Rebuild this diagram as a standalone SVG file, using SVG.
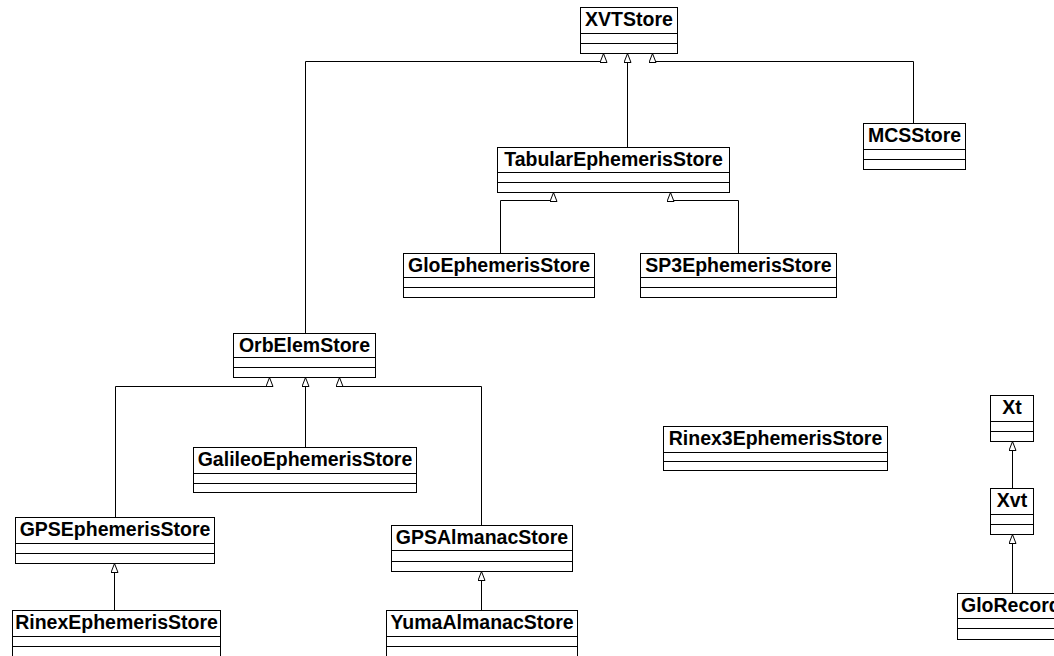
<svg xmlns="http://www.w3.org/2000/svg" width="1054" height="656" viewBox="0 0 1054 656">
<style>
.box rect{fill:#fff;stroke:#000;stroke-width:1}
.box line{stroke:#000;stroke-width:1}
.box text{font-family:"Liberation Sans",Arial,sans-serif;font-weight:bold;font-size:19.5px;fill:#000;text-anchor:middle}
.conn path{fill:none;stroke:#000;stroke-width:1;marker-end:url(#gen)}
</style>
<defs>
<marker id="gen" viewBox="0 0 10 8" refX="10" refY="4" markerWidth="10" markerHeight="8" markerUnits="userSpaceOnUse" orient="auto">
<path d="M0.5,0.5 L9.5,4 L0.5,7.5 Z" fill="#fff" stroke="#000" stroke-width="1"/>
</marker>
</defs>
<rect width="1054" height="656" fill="#fff"/>
<g class="conn">
<path d="M305.5,333 V61.5 H603.5 V53"/>
<path d="M627.5,148 V53"/>
<path d="M913.5,123 V61.5 H652.5 V53"/>
<path d="M500.5,253 V200.5 H553.5 V192"/>
<path d="M738.5,253 V200.5 H670.5 V192"/>
<path d="M115.5,517 V386.5 H269.5 V377"/>
<path d="M305.5,448 V377"/>
<path d="M481.5,525 V386.5 H339.5 V377"/>
<path d="M114.5,610 V563"/>
<path d="M481.5,610 V571"/>
<path d="M1012.5,488 V441"/>
<path d="M1012.5,593 V534"/>
</g>
<g id="XVTStore" class="box"><rect x="580.5" y="7.5" width="97" height="46"/><line x1="580.5" y1="33.5" x2="677.5" y2="33.5"/><line x1="580.5" y1="43.5" x2="677.5" y2="43.5"/><text x="629" y="26">XVTStore</text></g>
<g id="TabularEphemerisStore" class="box"><rect x="497.5" y="147.5" width="232" height="45"/><line x1="497.5" y1="172.5" x2="729.5" y2="172.5"/><line x1="497.5" y1="182.5" x2="729.5" y2="182.5"/><text x="613.5" y="166">TabularEphemerisStore</text></g>
<g id="MCSStore" class="box"><rect x="863.5" y="123.5" width="102" height="46"/><line x1="863.5" y1="149.5" x2="965.5" y2="149.5"/><line x1="863.5" y1="159.5" x2="965.5" y2="159.5"/><text x="914.5" y="142">MCSStore</text></g>
<g id="GloEphemerisStore" class="box"><rect x="403.5" y="253.5" width="191" height="44"/><line x1="403.5" y1="277.5" x2="594.5" y2="277.5"/><line x1="403.5" y1="287.5" x2="594.5" y2="287.5"/><text x="499" y="272">GloEphemerisStore</text></g>
<g id="SP3EphemerisStore" class="box"><rect x="640.5" y="253.5" width="196" height="44"/><line x1="640.5" y1="277.5" x2="836.5" y2="277.5"/><line x1="640.5" y1="287.5" x2="836.5" y2="287.5"/><text x="738.5" y="272">SP3EphemerisStore</text></g>
<g id="OrbElemStore" class="box"><rect x="233.5" y="333.5" width="142" height="44"/><line x1="233.5" y1="357.5" x2="375.5" y2="357.5"/><line x1="233.5" y1="367.5" x2="375.5" y2="367.5"/><text x="304.5" y="352">OrbElemStore</text></g>
<g id="GalileoEphemerisStore" class="box"><rect x="193.5" y="447.5" width="223" height="45"/><line x1="193.5" y1="473.5" x2="416.5" y2="473.5"/><line x1="193.5" y1="483.5" x2="416.5" y2="483.5"/><text x="305" y="466">GalileoEphemerisStore</text></g>
<g id="Rinex3EphemerisStore" class="box"><rect x="663.5" y="426.5" width="224" height="44"/><line x1="663.5" y1="452.5" x2="887.5" y2="452.5"/><line x1="663.5" y1="461.5" x2="887.5" y2="461.5"/><text x="775.5" y="445">Rinex3EphemerisStore</text></g>
<g id="GPSEphemerisStore" class="box"><rect x="15.5" y="517.5" width="199" height="46"/><line x1="15.5" y1="543.5" x2="214.5" y2="543.5"/><line x1="15.5" y1="553.5" x2="214.5" y2="553.5"/><text x="115" y="536">GPSEphemerisStore</text></g>
<g id="GPSAlmanacStore" class="box"><rect x="391.5" y="525.5" width="181" height="46"/><line x1="391.5" y1="550.5" x2="572.5" y2="550.5"/><line x1="391.5" y1="561.5" x2="572.5" y2="561.5"/><text x="482" y="544">GPSAlmanacStore</text></g>
<g id="RinexEphemerisStore" class="box"><rect x="12.5" y="610.5" width="208" height="47"/><line x1="12.5" y1="636.5" x2="220.5" y2="636.5"/><line x1="12.5" y1="646.5" x2="220.5" y2="646.5"/><text x="116.5" y="629">RinexEphemerisStore</text></g>
<g id="YumaAlmanacStore" class="box"><rect x="386.5" y="610.5" width="191" height="47"/><line x1="386.5" y1="636.5" x2="577.5" y2="636.5"/><line x1="386.5" y1="646.5" x2="577.5" y2="646.5"/><text x="482" y="629">YumaAlmanacStore</text></g>
<g id="Xt" class="box"><rect x="990.5" y="395.5" width="43" height="46"/><line x1="990.5" y1="421.5" x2="1033.5" y2="421.5"/><line x1="990.5" y1="431.5" x2="1033.5" y2="431.5"/><text x="1012" y="414">Xt</text></g>
<g id="Xvt" class="box"><rect x="990.5" y="488.5" width="43" height="46"/><line x1="990.5" y1="514.5" x2="1033.5" y2="514.5"/><line x1="990.5" y1="524.5" x2="1033.5" y2="524.5"/><text x="1012" y="507">Xvt</text></g>
<g id="GloRecord" class="box"><rect x="957.5" y="593.5" width="120" height="46"/><line x1="957.5" y1="618.5" x2="1077.5" y2="618.5"/><line x1="957.5" y1="628.5" x2="1077.5" y2="628.5"/><text x="961" y="612" style="text-anchor:start">GloRecord</text></g>
</svg>
